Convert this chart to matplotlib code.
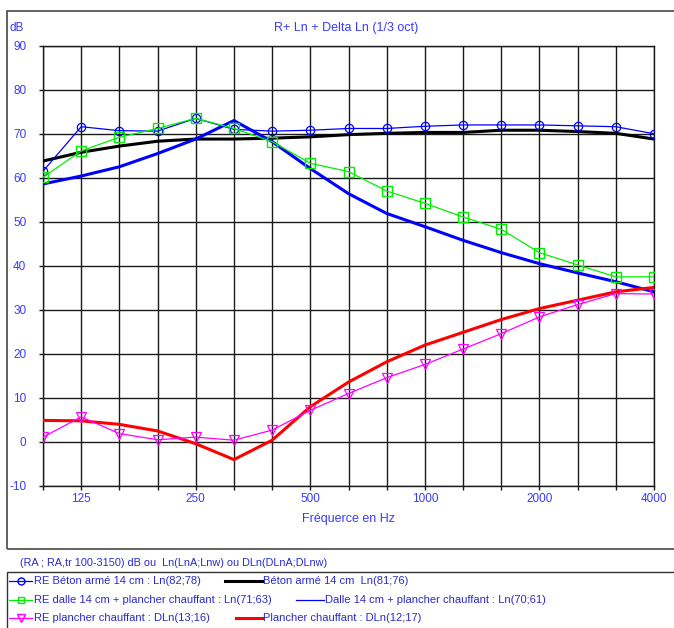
import numpy as np
import matplotlib
matplotlib.use("Agg")
import matplotlib.pyplot as plt
from matplotlib.patches import Rectangle
from matplotlib.lines import Line2D

plt.rcParams['font.family'] = ['Liberation Sans', 'DejaVu Sans']
plt.rcParams['axes.unicode_minus'] = False

# bandes de tiers d'octave
freqs = [100, 125, 160, 200, 250, 315, 400, 500, 630, 800,
         1000, 1250, 1600, 2000, 2500, 3150, 4000]
tick_labels = ["125", "250", "500", "1000", "2000", "4000"]

re_beton = [61.5, 71.6, 70.7, 70.6, 73.5, 71.0, 70.6, 70.8, 71.2, 71.2,
            71.7, 72.0, 72.0, 72.0, 71.8, 71.6, 70.0]
beton = [63.8, 65.8, 67.2, 68.3, 68.8, 68.8, 69.0, 69.3, 69.8, 70.1,
         70.3, 70.3, 70.8, 70.8, 70.5, 70.1, 68.8]
re_dalle = [60.1, 66.1, 69.2, 71.2, 73.5, 71.2, 68.2, 63.3, 61.4, 57.0,
            54.2, 51.1, 48.3, 43.0, 40.2, 37.5, 37.5]
dalle = [58.6, 60.4, 62.5, 65.5, 68.8, 73.0, 68.2, 62.1, 56.4, 51.9,
         48.9, 45.8, 43.0, 40.5, 38.4, 36.4, 34.1]
re_plancher = [1.1, 5.7, 1.9, 0.5, 1.1, 0.4, 2.7, 7.2, 11.0, 14.6,
               17.6, 21.1, 24.6, 28.4, 31.2, 33.7, 33.6]
plancher = [4.9, 4.8, 4.0, 2.5, -0.4, -4.0, 0.4, 8.0, 13.6, 18.2,
            22.0, 24.9, 27.8, 30.3, 32.2, 34.1, 35.1]

W, H = 674, 628
fig = plt.figure(figsize=(W / 100, H / 100), dpi=100)
ax = fig.add_axes([43 / W, 1 - 486 / H, (654 - 43) / W, (486 - 45.7) / H])

x = np.arange(len(freqs))
txt_blue = '#3a3aff'

ax.plot(x, beton, color='black', lw=2.2, zorder=3)
ax.plot(x, dalle, color='#0000ff', lw=2.2, zorder=3)
ax.plot(x, plancher, color='#ff0000', lw=2.2, zorder=3)
ax.plot(x, re_beton, color='#0000ff', lw=0.9, marker='o', ms=6,
        mfc='none', mew=0.9, zorder=4)
ax.plot(x, re_dalle, color='#00ee00', lw=0.9, marker='s', ms=6.5,
        mfc='none', mew=1.0, zorder=4)
ax.plot(x, re_plancher, color='#ff00ff', lw=0.9, marker='v', ms=7,
        mfc='none', mew=0.9, zorder=4)

ax.set_xlim(0, len(freqs) - 1)
ax.set_ylim(-10, 90)
ax.set_yticks(np.arange(-10, 91, 10))
ax.set_xticks([freqs.index(int(t)) for t in tick_labels])
ax.set_xticklabels(tick_labels)
ax.set_xticks(x, minor=True)
ax.grid(True, which='both', color='#1a1a1a', lw=1.0, zorder=1)
for s in ax.spines.values():
    s.set_color('#1a1a1a')
    s.set_linewidth(1.0)
ax.tick_params(axis='y', length=3, width=1, color='#1a1a1a', pad=9,
               labelsize=8.5, labelcolor=txt_blue)
ax.tick_params(axis='x', which='both', length=3, width=1, color='#1a1a1a',
               pad=2, labelsize=8.5, labelcolor=txt_blue)

fig.text(346 / W, 1 - 28 / H, "R+ Ln + Delta Ln (1/3 oct)", color=txt_blue,
         fontsize=9, ha='center', va='center')
fig.text(10 / W, 1 - 28 / H, "dB", color=txt_blue, fontsize=8.5,
         ha='left', va='center')
fig.text(349 / W, 1 - 519 / H, "Fréquerce en Hz", color=txt_blue,
         fontsize=9, ha='center', va='center')

# cadres
fig.patches.append(Rectangle((7 / W, 1 - 549 / H), 1, (549 - 11) / H,
                             transform=fig.transFigure, fill=False,
                             ec='#555555', lw=1.3))
fig.patches.append(Rectangle((7 / W, -0.01), 1, 0.01 + (628 - 572) / H,
                             transform=fig.transFigure, fill=False,
                             ec='#333333', lw=1.0))

leg_col = '#2a2ad0'
fig.text(20 / W, 1 - 563 / H,
         "(RA ; RA,tr 100-3150) dB ou  Ln(LnA;Lnw) ou DLn(DLnA;DLnw)",
         color=leg_col, fontsize=7.8, ha='left', va='center')

rows = [
    (581, dict(color='#0000ff', lw=0.9), 'o', 5,
     "RE Béton armé 14 cm : Ln(82;78)",
     (225, 262), dict(color='black', lw=2.2), "Béton armé 14 cm  Ln(81;76)"),
    (600, dict(color='#00ee00', lw=0.9), 's', 5,
     "RE dalle 14 cm + plancher chauffant : Ln(71;63)",
     (296, 324), dict(color='#0000ff', lw=0.9),
     "Dalle 14 cm + plancher chauffant : Ln(70;61)"),
    (618, dict(color='#ff00ff', lw=0.9), 'v', 5.5,
     "RE plancher chauffant : DLn(13;16)",
     (236, 262), dict(color='#ff0000', lw=2.2),
     "Plancher chauffant : DLn(12;17)"),
]
for yrow, st1, mk, msz, lab1, (xa, xb), st2, lab2 in rows:
    yf = 1 - yrow / H
    fig.add_artist(Line2D([9 / W, 32 / W], [yf, yf],
                          transform=fig.transFigure, **st1))
    fig.add_artist(Line2D([20.5 / W], [yf], transform=fig.transFigure,
                          color=st1['color'], marker=mk, ms=msz,
                          mfc='none', lw=0))
    fig.text(34 / W, yf, lab1, color=leg_col, fontsize=8, ha='left',
             va='center')
    fig.add_artist(Line2D([xa / W, xb / W], [yf, yf],
                          transform=fig.transFigure, **st2))
    fig.text((xb + 1) / W, yf, lab2, color=leg_col, fontsize=8,
             ha='left', va='center')

fig.savefig("out.png", dpi=100)
